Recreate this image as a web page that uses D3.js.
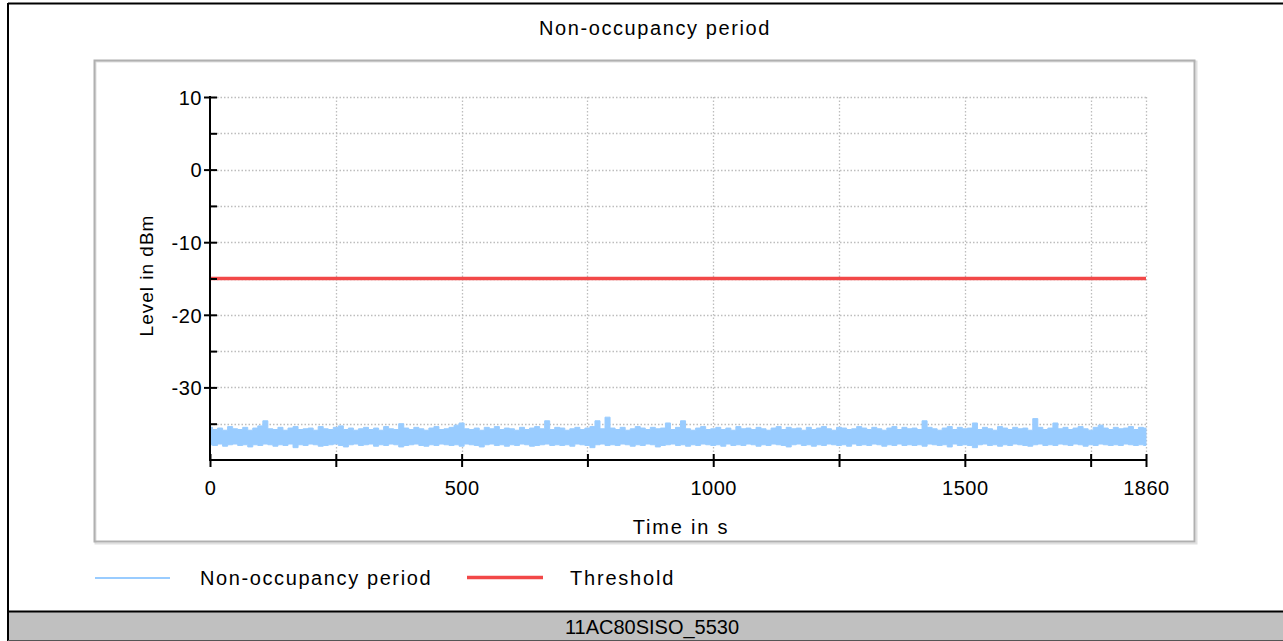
<!DOCTYPE html>
<html>
<head>
<meta charset="utf-8">
<script src="https://cdn.jsdelivr.net/npm/d3@7"></script>
<style>
  html, body { margin: 0; padding: 0; background: #fff; }
  svg { display: block; }
  text { font-family: "Liberation Sans", Arial, sans-serif; fill: #000; }
</style>
</head>
<body>
<svg id="chart" width="1283" height="641"></svg>
<script>
// ---------------- data ----------------
const chartTitle = "Non-occupancy period";
const footerLabel = "11AC80SISO_5530";
const xLabel = "Time in s";
const yLabel = "Level in dBm";
const seriesNames = ["Non-occupancy period", "Threshold"];

const xMajorTicks = [0, 500, 1000, 1500, 1860];
const xMinorTicks = [250, 750, 1250, 1750];
const yMajorTicks = [10, 0, -10, -20, -30];
const yMinorTicks = [5, -5, -15, -25, -35];

const sampleStep = 10; // seconds between envelope samples (0 .. 1860)
// upper envelope of the measured level (dBm)
const noiseMax = [
  -35.5,-35.8,-35.6,-35.9,-35.4,-35.7,-35.8,-35.5,-35.9,-35.6,
  -35.3,-34.6,-35.7,-35.8,-35.5,-35.9,-35.6,-35.4,-35.8,-35.7,
  -35.6,-35.9,-35.4,-35.7,-35.8,-35.5,-35.3,-35.8,-35.6,-35.9,
  -35.7,-35.5,-35.8,-35.6,-35.9,-35.4,-35.7,-35.8,-35.0,-35.6,
  -35.8,-35.5,-35.7,-35.9,-35.6,-35.4,-35.8,-35.7,-35.5,-35.2,
  -34.9,-35.7,-35.8,-35.6,-35.9,-35.5,-35.7,-35.4,-35.8,-35.6,
  -35.7,-35.9,-35.5,-35.8,-35.6,-35.4,-35.7,-34.6,-35.8,-35.5,
  -35.6,-35.9,-35.7,-35.5,-35.8,-35.6,-35.4,-34.6,-35.7,-34.1,
  -35.6,-35.8,-35.5,-35.9,-35.7,-35.4,-35.6,-35.8,-35.5,-35.7,
  -35.6,-34.9,-35.8,-35.5,-34.6,-35.7,-35.9,-35.6,-35.4,-35.8,
  -35.7,-35.5,-35.8,-35.6,-35.9,-35.4,-35.7,-35.6,-35.8,-35.5,
  -35.7,-35.9,-35.6,-35.4,-35.8,-35.5,-35.7,-35.6,-35.9,-35.5,
  -35.8,-35.6,-35.4,-35.7,-35.9,-35.5,-35.6,-35.8,-35.7,-35.4,
  -35.6,-35.8,-35.5,-35.7,-35.9,-35.6,-35.4,-35.8,-35.5,-35.7,
  -35.6,-35.8,-34.6,-35.5,-35.7,-35.9,-35.6,-35.4,-35.8,-35.5,
  -35.7,-35.6,-34.9,-35.8,-35.5,-35.7,-35.9,-35.4,-35.6,-35.8,
  -35.5,-35.7,-35.6,-35.9,-34.3,-35.5,-35.8,-35.6,-34.9,-35.7,
  -35.5,-35.8,-35.6,-35.4,-35.7,-35.9,-35.5,-35.2,-35.6,-35.8,
  -35.5,-35.7,-35.6,-35.4,-35.8,-35.5,-35.6
];
// lower envelope of the measured level (dBm)
const noiseMin = [
  -37.9,-38.0,-37.8,-38.1,-37.9,-37.8,-38.0,-37.9,-38.2,-37.9,
  -38.0,-37.8,-37.9,-38.1,-37.9,-38.0,-37.8,-38.3,-37.9,-38.0,
  -37.8,-37.9,-38.1,-38.0,-37.9,-37.8,-38.0,-38.2,-37.9,-37.8,
  -38.0,-37.9,-37.8,-38.1,-37.9,-38.0,-37.8,-37.9,-38.2,-38.0,
  -37.9,-37.8,-38.0,-38.1,-37.9,-38.0,-37.8,-37.9,-38.0,-37.9,
  -38.1,-37.8,-37.9,-38.0,-38.2,-37.9,-37.8,-38.0,-37.9,-38.1,
  -37.9,-38.0,-37.8,-37.9,-38.1,-38.0,-37.9,-37.8,-38.0,-37.9,
  -38.0,-37.9,-38.1,-37.8,-37.9,-38.0,-38.3,-37.9,-37.8,-38.0,
  -37.9,-38.0,-37.8,-37.9,-38.1,-37.9,-38.0,-37.8,-37.9,-38.2,
  -38.0,-37.9,-37.8,-38.0,-37.9,-38.1,-37.9,-38.0,-37.8,-37.9,
  -38.0,-37.9,-38.1,-37.8,-38.0,-37.9,-38.0,-37.8,-37.9,-38.1,
  -37.9,-38.0,-37.8,-37.9,-38.0,-38.2,-37.9,-37.8,-38.0,-37.9,
  -38.1,-37.9,-38.0,-37.8,-37.9,-38.0,-37.9,-38.1,-37.8,-38.0,
  -37.9,-38.0,-37.8,-37.9,-38.1,-37.9,-38.0,-37.8,-38.0,-37.9,
  -38.0,-37.9,-38.1,-37.8,-37.9,-38.0,-37.9,-38.2,-37.8,-38.0,
  -37.9,-38.0,-38.3,-37.9,-37.8,-38.0,-37.9,-38.1,-37.9,-38.0,
  -37.8,-37.9,-38.0,-38.1,-37.9,-37.8,-38.0,-37.9,-38.0,-37.8,
  -37.9,-38.0,-37.8,-37.9,-38.1,-37.9,-38.0,-37.8,-37.9,-38.0,
  -37.9,-38.0,-37.8,-37.9,-38.0,-37.9,-38.0
];
const thresholdTimes = [0, 1860];
const thresholdValues = [-15, -15];

// ---------------- drawing ----------------
const svg = d3.select("#chart");
const W = 1283, H = 641;
const plot = { left: 210, right: 1146, top: 97, bottom: 460 };

const x = d3.scaleLinear().domain([0, 1860]).range([plot.left, plot.right]);
const y = d3.scaleLinear().domain([-40, 10]).range([plot.bottom, plot.top]);

const colNoise = "#99ccff";
const colThr = "#f24848";
const plainNum = d => String(d); // hyphen-minus as in the original

// outer borders
svg.append("rect").attr("x", 0).attr("y", 0).attr("width", W).attr("height", H).attr("fill", "#fff");
svg.append("rect").attr("x", 8).attr("y", 612).attr("width", W - 8).attr("height", 28).attr("fill", "#c0c0c0");
svg.append("line").attr("x1", 8).attr("x2", W).attr("y1", 3.5).attr("y2", 3.5).attr("stroke", "#000").attr("stroke-width", 2);
svg.append("line").attr("x1", 8).attr("x2", 8).attr("y1", 3).attr("y2", H).attr("stroke", "#000").attr("stroke-width", 2);
svg.append("line").attr("x1", 8).attr("x2", W).attr("y1", 611.5).attr("y2", 611.5).attr("stroke", "#000").attr("stroke-width", 2);
svg.append("line").attr("x1", 8).attr("x2", W).attr("y1", 640.5).attr("y2", 640.5).attr("stroke", "#555").attr("stroke-width", 1);

// plot frame (grey with light shadow)
svg.append("rect").attr("x", 95.5).attr("y", 61.5).attr("width", 1101).attr("height", 482)
  .attr("fill", "none").attr("stroke", "#e0e0e0").attr("stroke-width", 2);
svg.append("rect").attr("x", 94.5).attr("y", 60.5).attr("width", 1100).attr("height", 481)
  .attr("fill", "none").attr("stroke", "#b0b0b0").attr("stroke-width", 2);

// title
svg.append("text").attr("x", 655).attr("y", 35).attr("text-anchor", "middle")
  .style("font-size", "20px").style("letter-spacing", "1.6px").text(chartTitle);

// grid
const grid = svg.append("g").attr("stroke", "#bdbdbd").attr("stroke-width", 1.3).attr("stroke-dasharray", "1.5,2");
grid.selectAll("line.h").data(yMajorTicks.concat(yMinorTicks)).join("line")
  .attr("x1", plot.left).attr("x2", plot.right)
  .attr("y1", d => Math.round(y(d)) + 0.5).attr("y2", d => Math.round(y(d)) + 0.5);
grid.selectAll("line.v").data(xMajorTicks.concat(xMinorTicks).filter(d => d > 0)).join("line")
  .attr("x1", d => Math.round(x(d)) + 0.5).attr("x2", d => Math.round(x(d)) + 0.5)
  .attr("y1", plot.top).attr("y2", plot.bottom);

// noise band
const band = noiseMax.map((v, i) => ({ t: i * sampleStep, hi: v, lo: noiseMin[i] }));
const area = d3.area().x(d => x(d.t)).y0(d => y(d.lo)).y1(d => y(d.hi)).curve(d3.curveStep);
svg.append("path").datum(band).attr("d", area).attr("fill", colNoise)
  .attr("stroke", colNoise).attr("stroke-width", 1);

// threshold
const thr = thresholdTimes.map((t, i) => ({ t, v: thresholdValues[i] }));
svg.append("path").datum(thr)
  .attr("d", d3.line().x(d => x(d.t)).y(d => y(d.v)))
  .attr("fill", "none").attr("stroke", colThr).attr("stroke-width", 3.5);

// y axis
const yAxisG = svg.append("g").attr("transform", `translate(${plot.left},0)`)
  .call(d3.axisLeft(y).tickValues(yMajorTicks).tickSizeInner(6).tickSizeOuter(0).tickPadding(4)
    .tickFormat(plainNum));
yAxisG.attr("font-family", null).attr("font-size", null);
yAxisG.select(".domain").attr("stroke", "#000").attr("stroke-width", 2)
  .attr("d", `M0,${plot.top - 1}V${plot.bottom}`);
yAxisG.selectAll(".tick line").attr("x1", 7).attr("stroke-width", 2);
yAxisG.selectAll(".tick text").style("font-size", "20px").style("letter-spacing", "0.5px")
  .attr("x", -8).attr("dy", "0.36em");

const yMinorG = svg.append("g").attr("transform", `translate(${plot.left},0)`)
  .call(d3.axisRight(y).tickValues(yMinorTicks).tickSize(7).tickFormat(""));
yMinorG.select(".domain").remove();
yMinorG.selectAll(".tick line").attr("stroke-width", 2);

// x axis
const xAxisG = svg.append("g").attr("transform", `translate(0,${plot.bottom})`)
  .call(d3.axisBottom(x).tickValues(xMajorTicks.concat(xMinorTicks)).tickSizeInner(7).tickSizeOuter(0)
    .tickPadding(14).tickFormat(d => xMajorTicks.includes(d) ? plainNum(d) : ""));
xAxisG.attr("font-family", null).attr("font-size", null);
xAxisG.select(".domain").attr("stroke", "#000").attr("stroke-width", 2)
  .attr("d", `M${plot.left - 1},0H${plot.right + 1}`);
xAxisG.selectAll(".tick line").attr("y1", -6).attr("stroke-width", 2);
xAxisG.selectAll(".tick text").style("font-size", "20px").style("letter-spacing", "0.5px");

// axis titles
svg.append("text").attr("x", 681).attr("y", 534).attr("text-anchor", "middle")
  .style("font-size", "20px").style("letter-spacing", "1.8px").text(xLabel);
svg.append("text").attr("transform", `translate(153,${(plot.top + plot.bottom) / 2 - 3}) rotate(-90)`)
  .attr("text-anchor", "middle").style("font-size", "19px").style("letter-spacing", "1px").text(yLabel);

// legend
const legend = svg.append("g");
legend.append("line").attr("x1", 95).attr("x2", 170).attr("y1", 578).attr("y2", 578)
  .attr("stroke", colNoise).attr("stroke-width", 2);
legend.append("text").attr("x", 200).attr("y", 585).style("font-size", "20px")
  .style("letter-spacing", "1.6px").text(seriesNames[0]);
legend.append("line").attr("x1", 467).attr("x2", 543).attr("y1", 577.5).attr("y2", 577.5)
  .attr("stroke", colThr).attr("stroke-width", 3.5);
legend.append("text").attr("x", 570).attr("y", 585).style("font-size", "20px")
  .style("letter-spacing", "1.8px").text(seriesNames[1]);

// footer
svg.append("text").attr("x", 652).attr("y", 634).attr("text-anchor", "middle")
  .style("font-size", "20px").text(footerLabel);
</script>
</body>
</html>
